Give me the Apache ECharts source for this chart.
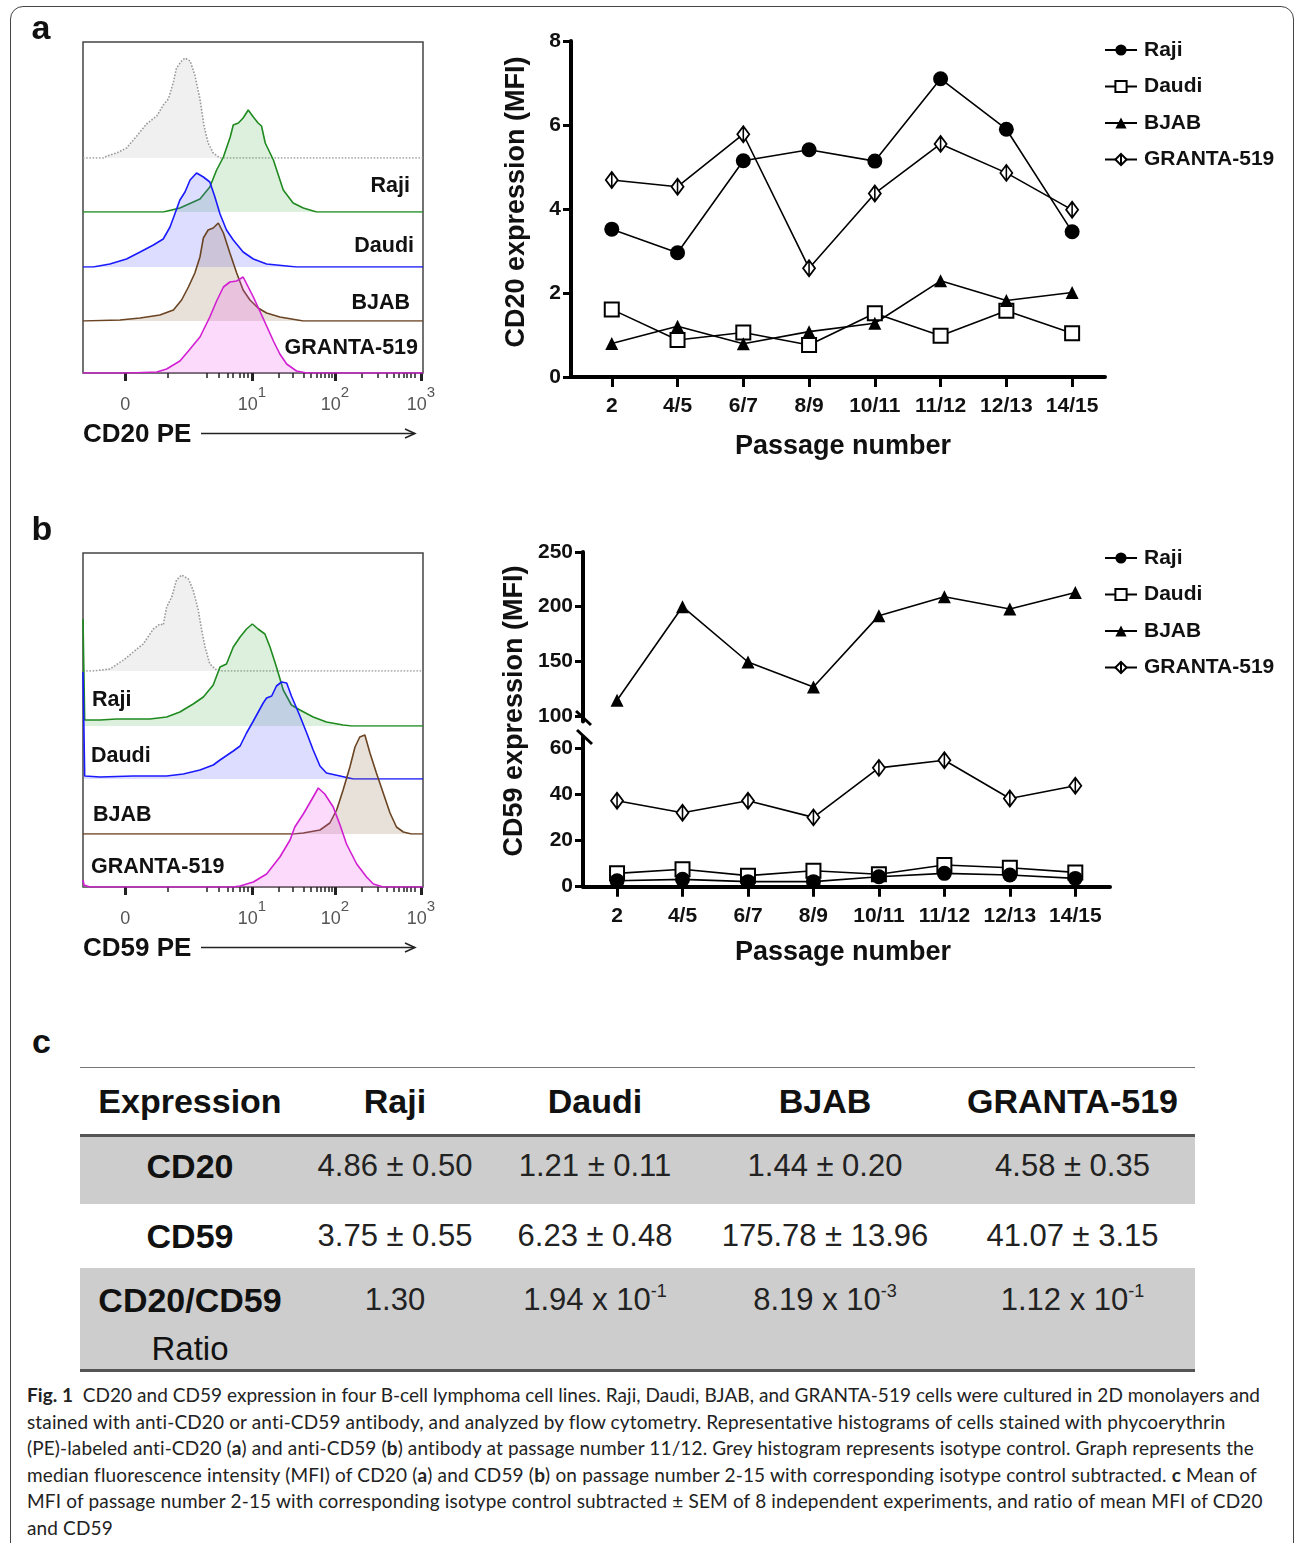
<!DOCTYPE html>
<html>
<head>
<meta charset="utf-8">
<script src="https://cdn.jsdelivr.net/npm/echarts@6/dist/echarts.min.js"></script>
<style>
  body { margin: 0; background: #fff; }
  #page { position: relative; width: 1295px; height: 1543px; overflow: hidden; font-family: 'Liberation Sans', Arial, sans-serif; }
  #frame { position: absolute; left: 10px; top: 6px; width: 1282px; height: 1600px; border: 1.5px solid #444; border-radius: 13px; }
  #chart { position: absolute; left: 0; top: 0; width: 1295px; height: 1010px; }
  #panelC { position: absolute; left: 32px; top: 1022px; font: bold 34px 'Liberation Sans', Arial, sans-serif; color: #111; }
  #table { position: absolute; left: 80px; top: 1067px; width: 1115px; border-top: 1.5px solid #777; border-bottom: 3px solid #555; color: #111; }
  .trow { display: flex; }
  .trow.head { height: 66px; line-height: 66px; border-bottom: 3px solid #555; font-weight: bold; font-size: 34px; }
  .trow.gray { background: #cdcdcd; }
  .cell { text-align: center; white-space: nowrap; }
  .lab { font-weight: bold; font-size: 34px; }
  .val { font-size: 31px; color: #222; }
  .val sup { font-size: 18px; vertical-align: 13px; line-height: 0; }
  #caption { position: absolute; left: 27px; top: 1382px; font-family: Lato, 'Open Sans', sans-serif; font-size: 19px; line-height: 26.6px; color: #222; }
  #caption div { white-space: nowrap; }
</style>
</head>
<body>
<div id="page">
  <div id="frame"></div>
  <div id="chart"></div>
  <div id="panelC">c</div>
  <div id="table"></div>
  <div id="caption">
    <div><b>Fig. 1</b>&nbsp; CD20 and CD59 expression in four B-cell lymphoma cell lines. Raji, Daudi, BJAB, and GRANTA-519 cells were cultured in 2D monolayers and</div>
    <div>stained with anti-CD20 or anti-CD59 antibody, and analyzed by flow cytometry. Representative histograms of cells stained with phycoerythrin</div>
    <div>(PE)-labeled anti-CD20 (<b>a</b>) and anti-CD59 (<b>b</b>) antibody at passage number 11/12. Grey histogram represents isotype control. Graph represents the</div>
    <div>median fluorescence intensity (MFI) of CD20 (<b>a</b>) and CD59 (<b>b</b>) on passage number 2-15 with corresponding isotype control subtracted. <b>c</b> Mean of</div>
    <div>MFI of passage number 2-15 with corresponding isotype control subtracted ± SEM of 8 independent experiments, and ratio of mean MFI of CD20</div>
    <div>and CD59</div>
  </div>
</div>
<script>
// cell lines and passages
const cellLines = ['Raji', 'Daudi', 'BJAB', 'GRANTA-519'];
const passages = ['2', '4/5', '6/7', '8/9', '10/11', '11/12', '12/13', '14/15'];

// CD20 MFI per passage (panel a)
const cd20Raji = [3.52, 2.96, 5.15, 5.41, 5.14, 7.10, 5.90, 3.46];
const cd20Daudi = [1.61, 0.88, 1.06, 0.76, 1.52, 0.98, 1.58, 1.04];
const cd20Bjab = [0.80, 1.21, 0.79, 1.08, 1.28, 2.29, 1.82, 2.01];
const cd20Granta = [4.69, 4.53, 5.78, 2.59, 4.37, 5.55, 4.86, 3.98];

// CD59 MFI per passage (panel b)
const cd59Raji = [2.6, 3.2, 2.2, 2.2, 4.3, 5.8, 5.1, 3.6];
const cd59Daudi = [5.8, 7.6, 4.8, 6.9, 5.4, 9.4, 8.2, 6.2];
const cd59Bjab = [114.5, 200, 149.4, 126.6, 191.8, 209, 197.9, 213];
const cd59Granta = [37.3, 32.1, 37.3, 30.1, 51.6, 54.9, 38.3, 43.8];

// flow histograms, [display channel 0-1000, % of mode]
const cd20Iso = [[0,0],[60,0],[70,2],[99,5],[128,10],[158,22],[187,34],[217,42],[236,53],[251,59],[266,76],[275,90],[290,97],[300,100],[315,97],[329,83],[344,59],[356,32],[368,15],[383,5],[403,0],[1000,0]];
const cd20RajiHist = [[0,0],[236,0],[285,4],[344,13],[373,25],[393,42],[413,55],[433,75],[442,87],[457,89],[471,94],[486,102],[501,95],[515,89],[525,86],[536,69],[560,52],[589,22],[618,9],[648,4],[687,0],[1000,0]];
const cd20DaudiHist = [[0,0],[30,0],[79,3],[128,8],[168,15],[207,22],[236,28],[256,40],[270,53],[285,67],[300,75],[315,87],[334,94],[354,90],[373,85],[388,70],[403,53],[422,37],[442,27],[471,15],[501,8],[540,3],[628,0],[1000,0]];
const cd20BjabHist = [[0,0],[109,1],[168,3],[226,6],[266,11],[290,21],[310,34],[329,48],[344,64],[354,83],[368,91],[383,93],[398,98],[413,88],[432,68],[452,48],[471,31],[491,21],[515,13],[540,8],[579,4],[648,0],[1000,0]];
const cd20GrantaHist = [[0,0],[138,0],[217,1],[246,4],[285,12],[310,22],[344,36],[373,56],[393,72],[413,86],[432,91],[452,92],[471,96],[486,86],[501,76],[520,62],[540,47],[560,32],[579,19],[599,9],[628,2],[658,0],[1000,0]];

const cd59Iso = [[0,0],[30,0],[79,2],[119,11],[148,19],[177,27],[207,42],[226,47],[236,46],[246,64],[261,74],[275,91],[290,96],[310,92],[324,81],[339,61],[349,41],[359,24],[373,7],[393,1],[410,0],[1000,0]];
const cd59RajiHist = [[0,107],[2,107],[5,6],[50,6],[99,7],[148,7],[197,7],[246,9],[285,14],[324,22],[354,29],[383,41],[403,59],[422,62],[442,79],[462,89],[481,97],[498,102],[515,97],[535,92],[550,79],[569,59],[589,36],[613,21],[638,16],[677,9],[716,4],[765,1],[790,0],[1000,0]];
const cd59DaudiHist = [[0,107],[2,107],[5,3],[50,2],[148,3],[197,3],[246,3],[295,5],[344,9],[383,14],[403,19],[442,28],[462,33],[481,46],[501,58],[530,76],[540,81],[555,83],[569,93],[584,97],[599,96],[613,83],[638,63],[658,46],[677,29],[697,13],[716,6],[756,3],[795,0],[1000,0]];
const cd59BjabHist = [[0,0],[620,0],[648,1],[697,4],[726,11],[746,24],[765,44],[785,67],[800,87],[814,97],[829,99],[844,81],[863,61],[883,41],[903,21],[922,7],[942,2],[966,0],[1000,0]];
const cd59GrantaHist = [[0,7],[3,2],[20,0],[440,0],[462,1],[501,5],[540,13],[579,30],[609,47],[623,60],[648,73],[672,87],[692,99],[711,93],[736,80],[756,62],[775,43],[805,23],[834,10],[854,3],[883,0],[1000,0]];

// biexponential axis ticks (display channels)
const majorTicks = [124, 497, 741, 994];
const majorDecades = [0, 1, 2, 3];
const minorTicks = [249, 365, 400, 426, 441, 460, 474, 486, 575, 618, 650, 671, 687, 700, 712, 722, 731, 820, 868, 893, 915, 928, 942, 953, 964, 976];

// table (panel c)
const tableHeader = ['Expression', 'Raji', 'Daudi', 'BJAB', 'GRANTA-519'];
const cd20Mean = ['4.86 ± 0.50', '1.21 ± 0.11', '1.44 ± 0.20', '4.58 ± 0.35'];
const cd59Mean = ['3.75 ± 0.55', '6.23 ± 0.48', '175.78 ± 13.96', '41.07 ± 3.15'];
const ratioBase = ['1.30', '1.94 x 10', '8.19 x 10', '1.12 x 10'];
const ratioExp = ['', '-1', '-3', '-1'];

const FONT = "'Liberation Sans', Arial, sans-serif";

const histStyles = [
  { line: '#9a9a9a', fill: 'rgba(215,215,215,0.55)', dash: 'dotted' },
  { line: '#1f8a1f', fill: 'rgba(60,170,60,0.25)' },
  { line: '#1a1aff', fill: 'rgba(80,80,255,0.28)' },
  { line: '#6b4423', fill: 'rgba(130,90,50,0.26)' },
  { line: '#d21fd2', fill: 'rgba(235,80,235,0.3)' }
];

const markers = {
  'Raji': { symbol: 'circle', size: 15, fill: '#000', border: 0 },
  'Daudi': { symbol: 'rect', size: 14, fill: '#fff', border: 2 },
  'BJAB': { symbol: 'triangle', size: 13, fill: '#000', border: 0 },
  'GRANTA-519': { symbol: 'path://M5,0 L10,8 L5,16 L0,8 Z M5,0 L5,16', size: [12, 16], fill: '#fff', border: 1.8 }
};

const grid = [];
const xAxis = [];
const yAxis = [];
const series = [];
const graphic = [];

function addGrid (g) {
  grid.push(Object.assign({ outerBoundsMode: 'none', containLabel: false }, g));
  return grid.length - 1;
}
function addAxes (gi, x, y) {
  x.gridIndex = gi
  y.gridIndex = gi
  xAxis.push(x)
  yAxis.push(y)
  return { x: xAxis.length - 1, y: yAxis.length - 1 };
}

// histogram panel: one frame grid + one grid per row so each curve sits on its own baseline
function buildHistogram (top, baselines, curves, axisTitle) {
  const bottom = baselines[baselines.length - 1];
  const fg = addGrid({ left: 83, top: top, width: 340, height: bottom - top, show: true, borderColor: '#444', borderWidth: 1.5, backgroundColor: 'rgba(0,0,0,0)' });
  addAxes(fg, {
    type: 'value', min: 0, max: 1000, position: 'bottom',
    axisLine: { show: false },
    axisTick: { show: true, customValues: majorTicks, length: 8, lineStyle: { color: '#222', width: 3 } },
    axisLabel: {
      customValues: majorTicks, margin: 12,
      formatter: function (v) {
        const d = majorDecades[majorTicks.indexOf(v)];
        return d === 0 ? '{b|0}' : '{b|10}{s|' + d + '}';
      },
      rich: {
        b: { fontSize: 18, color: '#555', fontFamily: FONT, lineHeight: 40, verticalAlign: 'middle' },
        s: { fontSize: 15, color: '#555', fontFamily: FONT, lineHeight: 15, verticalAlign: 'top' }
      }
    },
    splitLine: { show: false }
  }, { type: 'value', show: false });
  xAxis.push({
    gridIndex: fg, type: 'value', min: 0, max: 1000, position: 'bottom', offset: 0,
    axisLine: { show: false },
    axisTick: { show: true, customValues: minorTicks, length: 5, lineStyle: { color: '#222', width: 1.5 } },
    axisLabel: { show: false, customValues: minorTicks },
    splitLine: { show: false }
  });
  curves.forEach(function (c, i) {
    const h = baselines[i] - top;
    const gi = addGrid({ left: 83, top: top, width: 340, height: h });
    const ax = addAxes(gi, { type: 'value', min: 0, max: 1000, show: false }, { type: 'value', min: 0, max: h, show: false });
    const st = histStyles[i];
    series.push({
      type: 'line', xAxisIndex: ax.x, yAxisIndex: ax.y, data: c,
      symbol: 'none', silent: true, z: 2 + i,
      lineStyle: { color: st.line, width: 1.6, type: st.dash || 'solid' },
      areaStyle: { color: st.fill }
    });
  });
  // axis title with arrow
  const ty = bottom + 62;
  graphic.push({ type: 'text', x: 83, y: ty, style: { text: axisTitle, font: 'bold 26px ' + FONT, fill: '#111', align: 'left', verticalAlign: 'middle' } });
  graphic.push({ type: 'line', shape: { x1: 201, y1: ty - 1.5, x2: 414, y2: ty - 1.5 }, style: { stroke: '#222', lineWidth: 1.5 } });
  graphic.push({ type: 'polyline', shape: { points: [[405, ty - 6], [415, ty - 1.5], [405, ty + 3]] }, style: { stroke: '#222', lineWidth: 1.5, fill: null } });
}

function lineSeries (name, values, ax) {
  const m = markers[name];
  return {
    name: name, type: 'line', xAxisIndex: ax.x, yAxisIndex: ax.y,
    data: values.map(function (v, i) { return [i, v]; }),
    symbol: m.symbol, symbolSize: m.size, showAllSymbol: true, z: 10,
    lineStyle: { color: '#000', width: 1.6 },
    itemStyle: { color: m.fill, borderColor: '#000', borderWidth: m.border },
    emphasis: { disabled: true }
  };
}

const idx = passages.map(function (_, i) { return i; });
function catAxis (minX, maxX, visible) {
  return {
    type: 'value', min: minX, max: maxX, show: visible, position: 'bottom',
    axisLine: { show: true, onZero: false, lineStyle: { color: '#000', width: 4 } },
    axisTick: { show: true, customValues: idx, length: 10, lineStyle: { color: '#000', width: 3 } },
    axisLabel: { customValues: idx, margin: 19, formatter: function (v) { return passages[v]; }, fontSize: 21, fontWeight: 'bold', color: '#111', fontFamily: FONT },
    splitLine: { show: false }
  };
}
function valAxis (minY, maxY, ticks) {
  return {
    type: 'value', min: minY, max: maxY,
    axisLine: { show: true, onZero: false, lineStyle: { color: '#000', width: 4 } },
    axisTick: { show: true, customValues: ticks, length: 8, lineStyle: { color: '#000', width: 3 } },
    axisLabel: { customValues: ticks, margin: 10, fontSize: 21, fontWeight: 'bold', color: '#111', fontFamily: FONT },
    splitLine: { show: false }
  };
}

// ---------- panel a ----------
buildHistogram(42, [158, 212, 267, 321, 373], [cd20Iso, cd20RajiHist, cd20DaudiHist, cd20BjabHist, cd20GrantaHist], 'CD20 PE');
const ga = addGrid({ left: 571, top: 41, width: 534, height: 336 });
const axA = addAxes(ga, catAxis(-0.62, 7.5, true), valAxis(0, 8, [0, 2, 4, 6, 8]));
series.push(lineSeries('Daudi', cd20Daudi, axA));
series.push(lineSeries('BJAB', cd20Bjab, axA));
series.push(lineSeries('GRANTA-519', cd20Granta, axA));
series.push(lineSeries('Raji', cd20Raji, axA));

// ---------- panel b ----------
buildHistogram(553, [671, 726, 779, 834, 887], [cd59Iso, cd59RajiHist, cd59DaudiHist, cd59BjabHist, cd59GrantaHist], 'CD59 PE');
const gbUp = addGrid({ left: 583, top: 552, width: 527, height: 169.5 });
const axBUp = addAxes(gbUp, catAxis(-0.52, 7.53, false), valAxis(95, 250, [100, 150, 200, 250]));
const gbLo = addGrid({ left: 583, top: 737, width: 527, height: 149.7 });
const axBLo = addAxes(gbLo, catAxis(-0.52, 7.53, true), valAxis(0, 65, [0, 20, 40, 60]));
series.push(lineSeries('BJAB', cd59Bjab, axBUp));
series.push(lineSeries('Daudi', cd59Daudi, axBLo));
series.push(lineSeries('GRANTA-519', cd59Granta, axBLo));
series.push(lineSeries('Raji', cd59Raji, axBLo));

// axis break marks
graphic.push({ type: 'line', shape: { x1: 576, y1: 711, x2: 591, y2: 725 }, style: { stroke: '#000', lineWidth: 3 } });
graphic.push({ type: 'line', shape: { x1: 577, y1: 730, x2: 592, y2: 744 }, style: { stroke: '#000', lineWidth: 3 } });

// titles and labels
function txt (x, y, text, font, align, rot) {
  graphic.push({ type: 'text', x: x, y: y, rotation: rot || 0, z: 50, style: { text: text, font: font, fill: '#111', align: align, verticalAlign: 'middle' } });
}
txt(41, 30, 'a', 'bold 34px ' + FONT, 'center');
txt(42, 531, 'b', 'bold 34px ' + FONT, 'center');
txt(517, 202, 'CD20 expression (MFI)', 'bold 27px ' + FONT, 'center', Math.PI / 2);
txt(515, 711, 'CD59 expression (MFI)', 'bold 27px ' + FONT, 'center', Math.PI / 2);
txt(843, 447, 'Passage number', 'bold 27px ' + FONT, 'center');
txt(843, 953, 'Passage number', 'bold 27px ' + FONT, 'center');
const histFont = 'bold 21.5px ' + FONT;
[[410, 186], [414, 246], [410, 303], [418, 348]].forEach(function (p, i) { txt(p[0], p[1], cellLines[i], histFont, 'right'); });
[[92, 700], [91, 756], [93, 815], [91, 867]].forEach(function (p, i) { txt(p[0], p[1], cellLines[i], histFont, 'left'); });

const legendBase = {
  data: cellLines, orient: 'vertical', left: 1099, itemWidth: 32, itemHeight: 14, itemGap: 14.5,
  selectedMode: false,
  textStyle: { fontSize: 21, fontWeight: 'bold', color: '#111', fontFamily: FONT, lineHeight: 22, padding: [0, 0, 0, 2] }
};

const chart = echarts.init(document.getElementById('chart'));
chart.setOption({
  animation: false,
  backgroundColor: 'rgba(0,0,0,0)',
  grid: grid,
  xAxis: xAxis,
  yAxis: yAxis,
  legend: [Object.assign({ top: 34 }, legendBase), Object.assign({ top: 542 }, legendBase)],
  graphic: graphic,
  series: series
});

// ---------- table ----------
const colW = [220, 190, 210, 250, 245];
function row (cls, cells, style) {
  let h = '<div class="trow ' + cls + '" style="' + (style || '') + '">';
  cells.forEach(function (c, i) { h += '<div class="cell" style="width:' + colW[i] + 'px">' + c + '</div>'; });
  return h + '</div>';
}
let html = row('head', tableHeader);
html += row('gray', ['<span class="lab">CD20</span>'].concat(cd20Mean.map(function (v) { return '<span class="val">' + v + '</span>'; })), 'height:66.5px;line-height:58px;');
html += row('', ['<span class="lab">CD59</span>'].concat(cd59Mean.map(function (v) { return '<span class="val">' + v + '</span>'; })), 'height:64px;line-height:64px;');
html += row('gray', ['<span class="lab">CD20/CD59</span><br><span style="font-size:33px">Ratio</span>'].concat(ratioBase.map(function (v, i) {
  return '<span class="val">' + v + (ratioExp[i] ? '<sup>' + ratioExp[i] + '</sup>' : '') + '</span>';
})), 'height:90px;padding-top:11px;line-height:42px;');
document.getElementById('table').innerHTML = html;

// ---------- caption: fit each line to the original right edge ----------
const captionRight = [1233, 1200, 1228, 1230, 1236];
document.fonts.ready.then(function () {
  const lines = document.querySelectorAll('#caption div');
  let sum = 0;
  captionRight.forEach(function (r, i) {
    const el = lines[i];
    el.style.display = 'inline-block';
    const w = el.getBoundingClientRect().width;
    const ls = (r - w) / el.textContent.length;
    el.style.letterSpacing = ls + 'px';
    el.style.display = 'block';
    sum += ls;
  });
  lines[5].style.letterSpacing = (sum / captionRight.length) + 'px';
});
</script>
</body>
</html>
